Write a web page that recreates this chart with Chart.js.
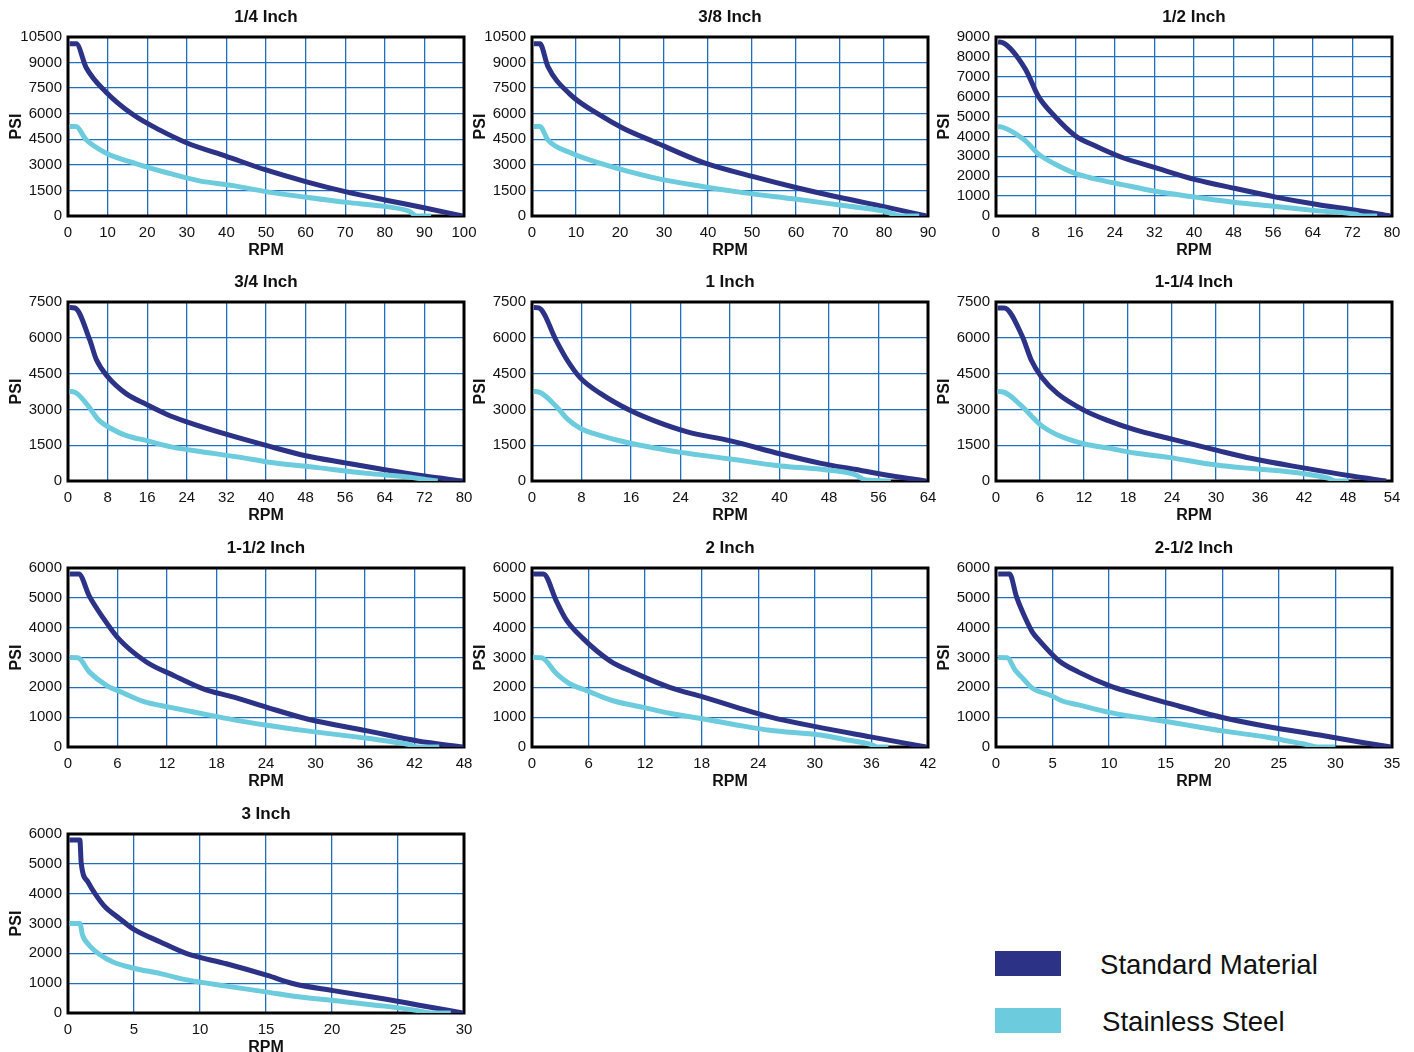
<!DOCTYPE html>
<html>
<head>
<meta charset="utf-8">
<script src="https://cdn.jsdelivr.net/npm/chart.js@4"></script>
<style>
  body { margin: 0; background: #fff; width: 1414px; height: 1052px; position: relative; overflow: hidden; font-family: "Liberation Sans", Arial, sans-serif; }
  .box { position: absolute; width: 494px; height: 260px; }
  .swatch { position: absolute; left: 995px; width: 66px; height: 25px; }
  .label { position: absolute; left: 1100px; font-size: 27.6px; line-height: 27px; color: #111; white-space: nowrap; }
</style>
</head>
<body>

<div class="swatch" style="top:951px;background:#2c3285"></div>
<div class="label" style="top:951px">Standard Material</div>
<div class="swatch" style="top:1008px;background:#6ccbdc"></div>
<div class="label" style="top:1008px;left:1102px">Stainless Steel</div>

<script>
// chart titles, axis ranges
const titles = ['1/4 Inch', '3/8 Inch', '1/2 Inch', '3/4 Inch', '1 Inch', '1-1/4 Inch', '1-1/2 Inch', '2 Inch', '2-1/2 Inch', '3 Inch'];
const rpmMax = [100, 90, 80, 80, 64, 54, 48, 42, 35, 30];
const rpmStep = [10, 10, 8, 8, 8, 6, 6, 6, 5, 5];
const psiMax = [10500, 10500, 9000, 7500, 7500, 7500, 6000, 6000, 6000, 6000];
const psiStep = [1500, 1500, 1000, 1500, 1500, 1500, 1000, 1000, 1000, 1000];

// [rpm, psi] readings, standard material
const std14 = [[0.4,10100],[2.1,10100],[4.6,8700],[9.7,7250],[16.4,5950],[23.1,5050],[29.9,4300],[40,3500],[50,2700],[60,2020],[70,1430],[80,940],[89.6,500],[99.6,0]];
const std38 = [[0.4,10100],[1.8,10100],[3.6,8780],[8.6,7150],[15.4,5930],[20.7,5150],[27.6,4370],[39,3130],[50.3,2310],[60.2,1660],[70.8,1040],[80,550],[89.6,0]];
const std12 = [[0.4,8750],[1.5,8700],[5.9,7400],[8.6,6000],[12,4980],[16,4040],[20,3530],[25.5,2940],[32.2,2430],[40.3,1830],[48.4,1380],[56.5,950],[64.6,590],[72.7,290],[79.6,0]];
const std34 = [[0.3,7270],[1.4,7250],[4.4,5910],[5.7,5100],[8.1,4350],[11.8,3650],[15.9,3200],[19.9,2800],[24,2480],[32.1,1950],[40.2,1480],[48,1060],[56,760],[64,470],[72,210],[79.7,0]];
const std1 = [[0.3,7270],[1.1,7250],[4,5840],[5.7,5060],[7.8,4320],[11.1,3660],[15.9,2950],[19.7,2530],[25.1,2060],[32.1,1680],[40.2,1130],[46.7,740],[52.1,490],[58,220],[63.7,0]];
const std114 = [[0.2,7250],[1.1,7250],[3.6,6050],[4.8,5070],[6.2,4360],[8.4,3660],[12.1,2950],[15.3,2530],[18.9,2150],[23.5,1790],[30.3,1270],[34.9,940],[41.7,560],[48.5,210],[53.2,0]];
const std112 = [[0.2,5800],[1.3,5800],[2.6,5050],[4.3,4310],[6.1,3640],[9.5,2850],[12.8,2400],[16.4,1950],[20.1,1670],[24.1,1330],[29,940],[36.3,540],[42.4,200],[47.9,0]];
const std2 = [[0.1,5800],[1.2,5800],[2.6,4880],[3.6,4280],[5.4,3640],[8.3,2880],[10.7,2510],[14.6,2000],[18.2,1670],[21.7,1330],[25.2,1010],[30.6,650],[35.9,340],[41.8,0]];
const std212 = [[0.2,5800],[1.2,5800],[1.8,5050],[2.4,4480],[3.2,3860],[3.8,3580],[5.5,2910],[7.3,2510],[10,2060],[12.3,1780],[15.3,1460],[20,990],[24.1,680],[28.6,400],[32.4,150],[34.9,0]];
const std3 = [[0.1,5800],[0.9,5800],[1.0,5030],[1.5,4400],[2.2,3900],[2.8,3560],[3.9,3170],[4.9,2830],[7,2380],[9,1990],[12,1650],[15.1,1260],[17.1,980],[20.1,750],[24,470],[26.5,270],[29.9,0]];

// [rpm, psi] readings, stainless steel
const ss14 = [[0.4,5250],[2,5250],[4.6,4470],[9.7,3680],[17.3,3060],[24.8,2550],[33.2,2060],[41.7,1780],[50,1430],[60.2,1100],[70.3,800],[80.4,550],[86.3,260],[88,0],[91.7,0]];
const ss38 = [[0.4,5250],[1.8,5250],[3.6,4470],[8.6,3720],[15.4,3100],[27.6,2250],[39,1720],[48,1370],[60.2,980],[70.8,610],[80,290],[83.8,0],[88,0]];
const ss12 = [[0.4,4500],[1.5,4450],[5.9,3790],[8.6,3110],[12,2600],[16,2140],[20,1870],[25.5,1580],[32.2,1240],[40.3,950],[48.4,680],[56.5,480],[64.6,270],[72.7,85],[74,0],[77,0]];
const ss34 = [[0.3,3750],[1.4,3720],[4,3170],[6.1,2580],[8.5,2220],[11.8,1900],[15.9,1690],[21.3,1410],[26.7,1240],[34.8,990],[40.2,800],[50.4,560],[60.5,320],[68.6,170],[73.4,30],[74.7,0]];
const ss1 = [[0.3,3750],[1.1,3730],[4,3100],[5.7,2600],[7.8,2210],[11.1,1900],[15.9,1580],[20.2,1370],[24,1200],[32.1,920],[40.2,630],[46.7,490],[52.1,280],[54,40],[58,0]];
const ss114 = [[0.2,3750],[1,3730],[3.4,3170],[6.2,2320],[8.4,1930],[12.1,1550],[15.3,1380],[18.9,1170],[23.5,990],[30.3,660],[34.9,520],[41.7,320],[45.4,110],[46.3,0],[48.1,0]];
const ss112 = [[0.2,3000],[1.2,2990],[2.6,2510],[4.7,2060],[6.3,1860],[9.1,1530],[12.4,1330],[16,1130],[20.1,910],[24.1,730],[29,540],[36.3,290],[41.2,90],[42.4,0],[45,0]];
const ss2 = [[0.1,3000],[1,2990],[2.6,2460],[4,2120],[5.8,1890],[8.6,1550],[11.8,1330],[14.6,1130],[18.2,940],[21.7,740],[25.2,560],[30.6,400],[33,260],[35.9,90],[36.6,0],[37.8,0]];
const ss212 = [[0.2,3000],[1,2990],[1.7,2570],[2.4,2290],[3.2,1980],[4.9,1720],[5.8,1550],[7.3,1410],[10,1160],[12.3,1010],[15.3,840],[20,540],[24.1,320],[27.1,110],[28.6,0],[30,0]];
const ss3 = [[0.1,3000],[0.9,3000],[1.1,2610],[1.6,2270],[2.4,1960],[3.4,1710],[4.9,1510],[7,1320],[9,1110],[12,900],[15.1,700],[17.1,560],[20.1,420],[24,230],[26.5,80],[27.5,0],[29,0]];

const stdSeries = [std14, std38, std12, std34, std1, std114, std112, std2, std212, std3];
const ssSeries = [ss14, ss38, ss12, ss34, ss1, ss114, ss112, ss2, ss212, ss3];

const plotLefts = [68, 532, 996];
const plotTops = [37, 302, 568, 834];

const plotBorder = {
  id: 'plotBorder',
  beforeDatasetsDraw(chart) {
    const a = chart.chartArea;
    const ctx = chart.ctx;
    ctx.save();
    ctx.strokeStyle = '#000';
    ctx.lineWidth = 3;
    ctx.strokeRect(a.left, a.top, a.right - a.left, a.bottom - a.top);
    ctx.restore();
  }
};

const toPts = arr => arr.map(p => ({ x: p[0], y: p[1] }));

titles.forEach((t, i) => {
  const col = i % 3, row = Math.floor(i / 3);
  const div = document.createElement('div');
  div.className = 'box';
  div.style.left = (plotLefts[col] - 68) + 'px';
  div.style.top = (plotTops[row] - 37) + 'px';
  const cv = document.createElement('canvas');
  cv.width = 494;
  cv.height = 260;
  div.appendChild(cv);
  document.body.appendChild(div);

  new Chart(cv, {
    type: 'line',
    data: {
      datasets: [
        {
          label: 'Stainless Steel',
          data: toPts(ssSeries[i]),
          borderColor: '#6ccbdc',
          borderWidth: 5,
          pointRadius: 0,
          cubicInterpolationMode: 'monotone'
        },
        {
          label: 'Standard Material',
          data: toPts(stdSeries[i]),
          borderColor: '#2c3285',
          borderWidth: 5,
          pointRadius: 0,
          cubicInterpolationMode: 'monotone'
        }
      ]
    },
    options: {
      responsive: false,
      animation: false,
      devicePixelRatio: 1,
      layout: { padding: { left: 0, right: 30, top: 0, bottom: 0 } },
      plugins: {
        legend: { display: false },
        tooltip: { enabled: false },
        title: {
          display: true,
          text: t,
          fullSize: false,
          color: '#111',
          font: { family: 'Liberation Sans', size: 17, weight: 'bold' },
          padding: { top: 7, bottom: 9.6 }
        }
      },
      scales: {
        x: {
          type: 'linear',
          min: 0,
          max: rpmMax[i],
          afterFit(s) { s.height = 44; },
          ticks: { stepSize: rpmStep[i], autoSkip: false, color: '#111', padding: 8, maxRotation: 0, callback: v => String(v), font: { family: 'Liberation Sans', size: 15 } },
          grid: { color: '#1f6fc0', lineWidth: 1.3, drawTicks: false },
          border: { display: false },
          title: { display: true, text: 'RPM', color: '#111', padding: { top: 0, bottom: 0 }, font: { family: 'Liberation Sans', size: 16, weight: 'bold' } }
        },
        y: {
          min: 0,
          max: psiMax[i],
          afterFit(s) { s.width = 68; },
          ticks: { stepSize: psiStep[i], autoSkip: false, color: '#111', padding: 6, callback: v => String(v), font: { family: 'Liberation Sans', size: 15 } },
          grid: { color: '#1f6fc0', lineWidth: 1.3, drawTicks: false },
          border: { display: false },
          title: { display: true, text: 'PSI', color: '#111', padding: { top: 7, bottom: 0 }, font: { family: 'Liberation Sans', size: 16, weight: 'bold' } }
        }
      }
    },
    plugins: [plotBorder]
  });
});
</script>
</body>
</html>
